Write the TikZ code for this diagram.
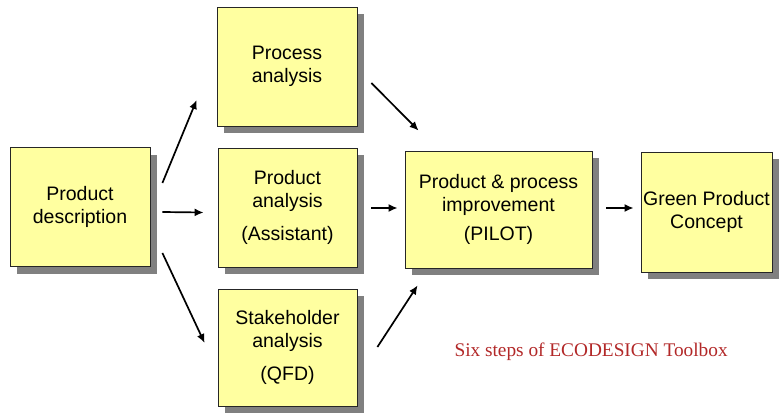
\documentclass[tikz,border=0pt]{standalone}
\usepackage{fontspec}
\setmainfont{Liberation Sans}
\newfontfamily\capfont{Liberation Serif}
\usetikzlibrary{shadows,arrows.meta}
\definecolor{boxyellow}{RGB}{255,255,160}
\definecolor{capred}{RGB}{178,40,40}
\tikzset{
  box/.style={draw=black!85, fill=boxyellow, line width=0.8pt, align=center,
    minimum width=140pt, minimum height=119pt, inner sep=0pt,
    font=\fontsize{19.5}{23}\selectfont,
    drop shadow={shadow xshift=7pt, shadow yshift=-7pt, fill=black!50, opacity=1}},
  arr/.style={->, >={Latex[length=9pt, width=8pt]}, line width=1.7pt}
}
\begin{document}
\begin{tikzpicture}[x=1pt, y=-1pt]
    \useasboundingbox (0, 0) rectangle (781, 412);
    \node[box] (pd) at (80, 207) {Product\\description};
    \node[box] (proc) at (287, 66.5) {Process\\analysis};
    \node[box, minimum width=139pt] (prod) at (287.5, 207.5) {Product\\analysis\\[10pt](Assistant)};
    \node[box, minimum width=139pt, minimum height=117pt] (stake) at (287.5, 347.5) {Stakeholder\\analysis\\[10pt](QFD)};
    \node[box, minimum width=187pt, minimum height=117pt] (pilot) at (498.5, 209.5) {Product \& process\\improvement\\[6pt](PILOT)};
    \node[box, minimum width=131pt, minimum height=120pt] (green) at (706.5, 212) {Green Product\\Concept};
    \node[anchor=base west, text=capred, font=\capfont\fontsize{19.3}{22}\selectfont] (caption) at (451, 356) {Six steps of ECODESIGN Toolbox};
    \draw [arr] ([shift={(12, -24)}]pd.east) to ([shift={(-20, 33.5)}]proc.west);
    \draw [arr] ([shift={(12, 5)}]pd.east) to ([shift={(-14, 5)}]prod.west);
    \draw [arr] ([shift={(12, 46)}]pd.east) to ([shift={(-13, -4.5)}]stake.west);
    \draw [arr] ([shift={(14, 16.5)}]proc.east) to ([shift={(14, -20)}]pilot.north west);
    \draw [arr] ([shift={(14, 0.5)}]prod.east) to ([shift={(-7, -1.5)}]pilot.west);
    \draw [arr] ([shift={(20, -0.5)}]stake.east) to ([shift={(13, 17)}]pilot.south west);
    \draw [arr] ([shift={(14, -1.5)}]pilot.east) to ([shift={(-7, -4)}]green.west);
\end{tikzpicture}
\end{document}
